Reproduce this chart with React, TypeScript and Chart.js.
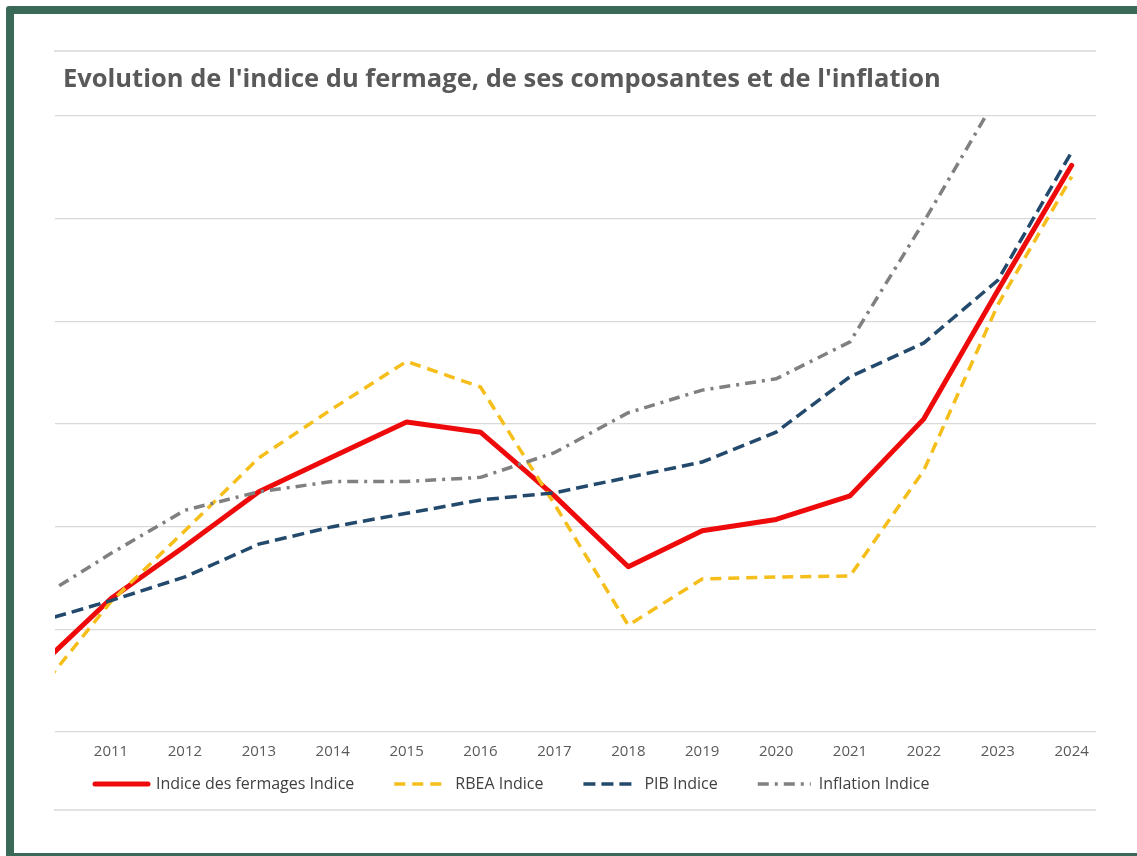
import React, { useEffect, useRef } from "react";
import { Chart, registerables } from "chart.js";

Chart.register(...registerables);

const years = [2010, 2011, 2012, 2013, 2014, 2015, 2016, 2017, 2018, 2019, 2020, 2021, 2022, 2023, 2024];
const fermages = [86.2, 93.0, 98.1, 103.4, 106.8, 110.2, 109.2, 103.0, 96.1, 99.6, 100.7, 103.0, 110.5, 123.0, 135.2];
const rbea = [83.8, 92.7, 99.6, 106.7, 111.5, 116.1, 113.6, 102.2, 90.4, 94.9, 95.1, 95.2, 105.5, 121.6, 134.1];
const pib = [90.7, 92.8, 95.1, 98.3, 100.0, 101.3, 102.6, 103.3, 104.8, 106.3, 109.2, 114.6, 117.9, 124.0, 136.5];
const inflation = [92.9, 97.4, 101.6, 103.4, 104.4, 104.4, 104.8, 107.2, 111.1, 113.3, 114.4, 118.0, 129.7, 142.0, 147.0];

const seriesLabels = ["Indice des fermages Indice", "RBEA Indice", "PIB Indice", "Inflation Indice"];
const titleText = "Evolution de l'indice du fermage, de ses composantes et de l'inflation";

const toPoints = (vals: number[]) => vals.map((v, i) => ({ x: years[i], y: v }));

// small layout adjustments: move the legend up closer to the axis, nudge the title right
const layoutTweak = {
  id: "layoutTweak",
  afterLayout(chart: any) {
    const lg = chart.legend;
    if (lg) {
      lg.top -= 28;
      lg.bottom -= 28;
    }
    const tb = chart.titleBlock;
    if (tb) {
      tb.left += 8;
      tb.right += 8;
    }
  },
};

export default function App() {
  const ref = useRef<HTMLCanvasElement | null>(null);

  useEffect(() => {
    if (!ref.current) return;
    Chart.defaults.font.family = "'Open Sans', sans-serif";
    const chart = new Chart(ref.current, {
      type: "line",
      data: {
        datasets: [
          {
            label: seriesLabels[0],
            data: toPoints(fermages),
            borderColor: "#ee0a0a",
            backgroundColor: "#ee0a0a",
            borderWidth: 5,
            borderCapStyle: "round",
            borderJoinStyle: "round",
            pointRadius: 0,
            tension: 0,
            order: 4,
          },
          {
            label: seriesLabels[1],
            data: toPoints(rbea),
            borderColor: "#f5be1a",
            backgroundColor: "#f5be1a",
            borderWidth: 3.5,
            borderDash: [11, 7],
            pointRadius: 0,
            tension: 0,
            order: 3,
          },
          {
            label: seriesLabels[2],
            data: toPoints(pib),
            borderColor: "#234a6c",
            backgroundColor: "#234a6c",
            borderWidth: 3.5,
            borderDash: [12, 6],
            pointRadius: 0,
            tension: 0,
            order: 2,
          },
          {
            label: seriesLabels[3],
            data: toPoints(inflation),
            borderColor: "#808080",
            backgroundColor: "#808080",
            borderWidth: 3.5,
            borderDash: [11, 6, 3, 6],
            pointRadius: 0,
            tension: 0,
            order: 1,
          },
        ],
      },
      options: {
        responsive: false,
        animation: false,
        layout: { padding: { left: 41, right: 41, top: 0, bottom: 0 } },
        plugins: {
          tooltip: { enabled: false },
          title: {
            display: true,
            text: titleText,
            align: "start",
            color: "#595959",
            font: { family: "'Open Sans', sans-serif", size: 25.5, weight: "bold" },
            padding: { top: 50, bottom: 21.4 },
          },
          legend: {
            position: "bottom",
            align: "start",
            labels: {
              usePointStyle: true,
              pointStyle: "line",
              pointStyleWidth: 53,
              padding: 40,
              color: "#404040",
              font: { family: "'Open Sans', sans-serif", size: 16 },
              sort: (a: any, b: any) => a.datasetIndex - b.datasetIndex,
              generateLabels: (chart: any) => {
                const items = Chart.defaults.plugins.legend.labels.generateLabels(chart);
                return items.map((it: any) => {
                  const ds: any = chart.data.datasets[it.datasetIndex];
                  return {
                    ...it,
                    lineDash: ds.borderDash || [],
                    lineWidth: ds.borderWidth,
                    lineCap: ds.borderCapStyle || "butt",
                    pointStyle: "line",
                  };
                });
              },
            },
          },
        },
        scales: {
          x: {
            type: "linear",
            min: 2010.242,
            max: 2024.329,
            grid: { display: false },
            border: { display: false },
            ticks: {
              stepSize: 1,
              includeBounds: false,
              autoSkip: false,
              maxRotation: 0,
              padding: 3,
              color: "#595959",
              font: { family: "'Open Sans', sans-serif", size: 15 },
              callback: (v: any) => String(v),
            },
          },
          y: {
            min: 80,
            max: 140,
            border: { display: false },
            grid: { color: "#d9d9d9", lineWidth: 1.3, drawTicks: false },
            ticks: { stepSize: 10, display: false },
          },
        },
      },
      plugins: [layoutTweak],
    });
    return () => chart.destroy();
  }, []);

  return (
    <div
      style={{
        position: "fixed",
        left: 0,
        top: 0,
        width: 1137,
        height: 856,
        overflow: "hidden",
        background: "#ffffff",
      }}
    >
      <div
        style={{
          position: "absolute",
          left: 6,
          top: 6,
          width: 1200,
          height: 855,
          boxSizing: "border-box",
          border: "8px solid #3a6a57",
          borderRadius: 3,
        }}
      />
      <div style={{ position: "absolute", left: 54, top: 50, width: 1042, height: 2, background: "#e2e2e2" }} />
      <div style={{ position: "absolute", left: 54, top: 809, width: 1042, height: 2, background: "#e2e2e2" }} />
      <canvas
        ref={ref}
        width={1123}
        height={816}
        style={{ position: "absolute", left: 14, top: 14, width: 1123, height: 816 }}
      />
    </div>
  );
}
